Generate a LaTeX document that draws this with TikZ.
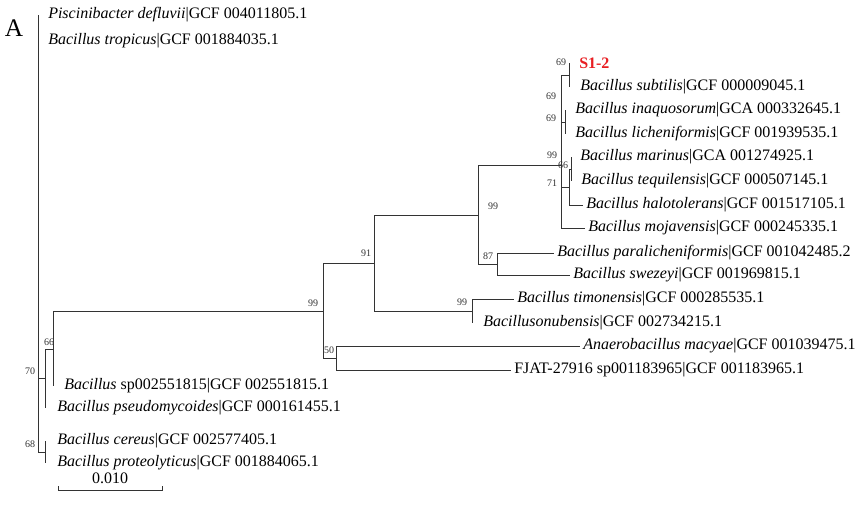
\documentclass[tikz,border=0pt]{standalone}
\usepackage{fontspec}
\setmainfont{Liberation Serif}
\definecolor{isolate}{RGB}{232,30,34}
\begin{document}
\begin{tikzpicture}
  [x=0.75pt,y=-0.75pt,
   branch/.style={draw=black!80,line width=0.6pt},
   taxon/.style={anchor=west,inner xsep=2.25pt,inner ysep=0pt,font=\fontsize{12}{14}\selectfont},
   boot/.style={inner sep=0pt,font=\fontsize{7.5}{9}\selectfont,text=black!80}]
  \useasboundingbox (0,0) rectangle (864,515);

  \node[font=\fontsize{19}{22}\selectfont] (panel) at (14,28) {A};

  % taxa
  \node[taxon] (pisc) at (45,15) {\textit{Piscinibacter defluvii}|GCF 004011805.1};
  \node[taxon] (trop) at (45,41) {\textit{Bacillus tropicus}|GCF 001884035.1};
  \node[taxon,text=isolate,font=\fontsize{12}{14}\selectfont\bfseries] (s12) at (576,63) {S1-2};
  \node[taxon] (subt) at (577,87) {\textit{Bacillus subtilis}|GCF 000009045.1};
  \node[taxon] (inaq) at (572,110) {\textit{Bacillus inaquosorum}|GCA 000332645.1};
  \node[taxon] (lich) at (572,134) {\textit{Bacillus licheniformis}|GCF 001939535.1};
  \node[taxon] (mari) at (577,157) {\textit{Bacillus marinus}|GCA 001274925.1};
  \node[taxon] (tequ) at (578,181) {\textit{Bacillus tequilensis}|GCF 000507145.1};
  \node[taxon] (halo) at (583,205) {\textit{Bacillus halotolerans}|GCF 001517105.1};
  \node[taxon] (moja) at (585,228) {\textit{Bacillus mojavensis}|GCF 000245335.1};
  \node[taxon] (para) at (554,253) {\textit{Bacillus paralicheniformis}|GCF 001042485.2};
  \node[taxon] (swez) at (570,275) {\textit{Bacillus swezeyi}|GCF 001969815.1};
  \node[taxon] (timo) at (514,299) {\textit{Bacillus timonensis}|GCF 000285535.1};
  \node[taxon] (onub) at (480,323) {\textit{Bacillusonubensis}|GCF 002734215.1};
  \node[taxon] (anae) at (580,346) {\textit{Anaerobacillus macyae}|GCF 001039475.1};
  \node[taxon] (fjat) at (511,370) {FJAT-27916 sp001183965|GCF 001183965.1};
  \node[taxon] (bsp) at (61,386) {\textit{Bacillus} sp002551815|GCF 002551815.1};
  \node[taxon] (pseu) at (54,408) {\textit{Bacillus pseudomycoides}|GCF 000161455.1};
  \node[taxon] (cere) at (54,441) {\textit{Bacillus cereus}|GCF 002577405.1};
  \node[taxon] (prot) at (54,463) {\textit{Bacillus proteolyticus}|GCF 001884065.1};

  % inner nodes
  \coordinate (root) at (38,233);
  \coordinate (c70) at (45,378);
  \coordinate (c66) at (53,349);
  \coordinate (c68) at (45,452);
  \coordinate (c99) at (323,311);
  \coordinate (c91) at (374,263);
  \coordinate (c50) at (336,358);
  \coordinate (c99b) at (478,215);
  \coordinate (c99c) at (472,311);
  \coordinate (c87) at (497,264);
  \coordinate (c99d) at (561,165);
  \coordinate (c69b) at (561,98);
  \coordinate (c69a) at (569,75);
  \coordinate (c69c) at (565,122);
  \coordinate (c71) at (569,187);
  \coordinate (c66b) at (571,169);

  \foreach \from/\to in {root/c70, root/c68, c70/c66, c66/c99, c99/c91, c99/c50,
      c91/c99b, c91/c99c, c99b/c99d, c99b/c87, c99d/c69b, c69b/c69a, c69b/c69c,
      c99d/c71, c71/c66b, c71/halo.west, c99d/moja.west, c87/para.west, c87/swez.west,
      c99c/timo.west, c50/anae.west, c50/fjat.west}
    \draw[branch] (\from) |- (\to);

  \foreach \from/\to in {root/pisc, root/trop, c69a/s12, c69a/subt, c69c/inaq, c69c/lich,
      c66b/mari, c66b/tequ, c99c/onub, c66/bsp, c70/pseu, c68/cere, c68/prot}
    \draw[branch] (\from) -- (\from |- \to.west);

  % bootstrap values
  \node[boot] (b1) at (313,303) {99};
  \node[boot] (b2) at (366,253) {91};
  \node[boot] (b3) at (493,206) {99};
  \node[boot] (b4) at (488,256) {87};
  \node[boot] (b5) at (462,302) {99};
  \node[boot] (b6) at (329,350) {50};
  \node[boot] (b7) at (552,155) {99};
  \node[boot] (b8) at (561,62) {69};
  \node[boot] (b9) at (551,96) {69};
  \node[boot] (b10) at (551,118) {69};
  \node[boot] (b11) at (563,165) {66};
  \node[boot] (b12) at (552,183) {71};
  \node[boot] (b13) at (49,342) {66};
  \node[boot] (b14) at (30,371) {70};
  \node[boot] (b15) at (30,444) {68};

  % scale bar
  \coordinate (sb1) at (58,490);
  \coordinate (sb2) at (162,490);
  \draw[branch] ([yshift=3pt]sb1) -- (sb1) -- (sb2) -- ([yshift=3pt]sb2);
  \node[font=\fontsize{12}{14}\selectfont] (sbl) at (110,478) {0.010};
\end{tikzpicture}
\end{document}
